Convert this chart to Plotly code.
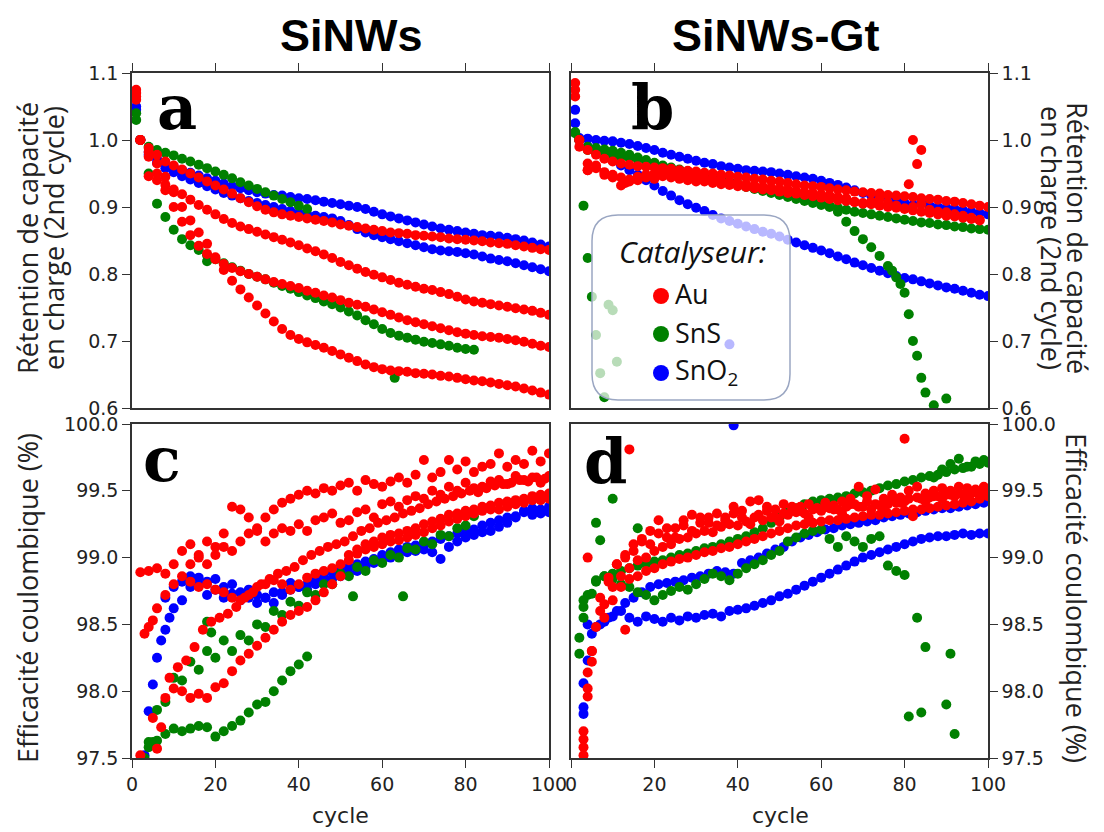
import plotly.graph_objects as go

# The page body has an 8px margin, so the figure is drawn 8px in from the window corner.
OFF = 8
W, H = 1104 - OFF, 832 - OFF
RED, GREEN, BLUE = "#ff0000", "#008000", "#0000ff"

# ===================== DATA =====================
# Panel a (SiNWs) - capacity retention. First value = cycle 1, then cycles 2,4,...,100
A_AU1 = [1.075, 1.0, 0.988, 0.978, 0.968, 0.962, 0.956, 0.95, 0.944, 0.938, 0.932, 0.926, 0.92, 0.913, 0.907, 0.901, 0.896, 0.892, 0.889, 0.887, 0.885, 0.883, 0.881, 0.879, 0.877, 0.874, 0.872, 0.87, 0.868, 0.866, 0.864, 0.862, 0.861, 0.86, 0.858, 0.857, 0.856, 0.855, 0.853, 0.852, 0.851, 0.85, 0.849, 0.847, 0.846, 0.845, 0.843, 0.841, 0.839, 0.837, 0.836]
A_AU2 = [1.07, 1.0, 0.946, 0.94, 0.933, 0.926, 0.919, 0.911, 0.903, 0.896, 0.889, 0.882, 0.876, 0.871, 0.867, 0.863, 0.859, 0.855, 0.851, 0.847, 0.843, 0.838, 0.834, 0.829, 0.824, 0.818, 0.813, 0.808, 0.803, 0.799, 0.795, 0.791, 0.787, 0.784, 0.781, 0.778, 0.776, 0.773, 0.77, 0.766, 0.762, 0.759, 0.757, 0.755, 0.753, 0.751, 0.749, 0.747, 0.745, 0.742, 0.739]
A_AU3 = [1.065, 1.0, 0.975, 0.95, 0.925, 0.9, 0.878, 0.858, 0.842, 0.83, 0.822, 0.815, 0.809, 0.804, 0.8, 0.796, 0.792, 0.788, 0.785, 0.782, 0.779, 0.775, 0.772, 0.768, 0.765, 0.761, 0.757, 0.754, 0.751, 0.747, 0.743, 0.739, 0.735, 0.731, 0.728, 0.725, 0.722, 0.719, 0.716, 0.713, 0.711, 0.709, 0.707, 0.706, 0.705, 0.703, 0.701, 0.699, 0.696, 0.693, 0.691]
A_AU4 = [1.06, 1.0, 0.982, 0.965, 0.945, 0.922, 0.9, 0.88, 0.862, 0.845, 0.825, 0.806, 0.79, 0.777, 0.765, 0.753, 0.741, 0.729, 0.718, 0.709, 0.703, 0.698, 0.694, 0.69, 0.685, 0.68, 0.675, 0.67, 0.665, 0.661, 0.658, 0.656, 0.655, 0.654, 0.652, 0.651, 0.65, 0.648, 0.647, 0.645, 0.643, 0.641, 0.64, 0.638, 0.636, 0.634, 0.632, 0.629, 0.626, 0.623, 0.62]
A_SNS1 = [1.04, 1.0, 0.99, 0.985, 0.981, 0.977, 0.972, 0.968, 0.963, 0.958, 0.953, 0.948, 0.943, 0.937, 0.932, 0.927, 0.922, 0.917, 0.912, 0.907, 0.902, 0.897]
A_SNS2 = [1.03, 1.0, 0.95, 0.905, 0.885, 0.866, 0.852, 0.843, 0.836, 0.828, 0.822, 0.816, 0.81, 0.805, 0.8, 0.796, 0.792, 0.787, 0.782, 0.778, 0.773, 0.768, 0.764, 0.759, 0.755, 0.75, 0.744, 0.738, 0.731, 0.725, 0.718, 0.712, 0.708, 0.705, 0.702, 0.699, 0.697, 0.695, 0.693, 0.69, 0.688, 0.687]
A_SNS_OUT_X = [18, 63]
A_SNS_OUT_Y = [0.819, 0.645]
A_SNO1 = [1.05, 1.0, 0.982, 0.972, 0.965, 0.96, 0.955, 0.951, 0.947, 0.943, 0.939, 0.935, 0.931, 0.928, 0.925, 0.922, 0.92, 0.918, 0.917, 0.915, 0.913, 0.912, 0.91, 0.908, 0.906, 0.904, 0.902, 0.9, 0.897, 0.893, 0.889, 0.886, 0.883, 0.88, 0.877, 0.874, 0.871, 0.868, 0.866, 0.864, 0.862, 0.86, 0.858, 0.857, 0.856, 0.854, 0.852, 0.85, 0.847, 0.844, 0.841]
A_SNO2 = [1.045, 1.0, 0.978, 0.966, 0.958, 0.952, 0.946, 0.941, 0.936, 0.931, 0.926, 0.921, 0.917, 0.913, 0.909, 0.906, 0.903, 0.9, 0.897, 0.894, 0.891, 0.889, 0.887, 0.885, 0.883, 0.879, 0.873, 0.867, 0.862, 0.858, 0.855, 0.852, 0.849, 0.846, 0.843, 0.84, 0.837, 0.835, 0.834, 0.833, 0.831, 0.829, 0.826, 0.823, 0.821, 0.819, 0.816, 0.813, 0.81, 0.807, 0.804]

# Panel b (SiNWs-Gt) - capacity retention. First value = cycle 1, then cycles 2,4,...
B_AU1 = [1.085, 1.0, 0.985, 0.978, 0.972, 0.968, 0.965, 0.963, 0.961, 0.96, 0.959, 0.958, 0.957, 0.955, 0.954, 0.953, 0.951, 0.95, 0.948, 0.947, 0.945, 0.944, 0.942, 0.941, 0.939, 0.938, 0.936, 0.934, 0.932, 0.931, 0.93, 0.928, 0.926, 0.925, 0.923, 0.922, 0.921, 0.92, 0.918, 0.917, 0.916, 0.915, 0.913, 0.912, 0.911, 0.909, 0.908, 0.906, 0.904, 0.902, 0.9]
B_AU2 = [1.075, 1.0, 0.965, 0.958, 0.952, 0.948, 0.944, 0.941, 0.945, 0.948, 0.95, 0.952, 0.951, 0.949, 0.947, 0.945, 0.943, 0.941, 0.939, 0.937, 0.935, 0.934, 0.932, 0.93, 0.929, 0.927, 0.926, 0.924, 0.922, 0.921, 0.919, 0.917, 0.915, 0.913, 0.907, 0.905, 0.908, 0.912, 0.906, 0.902, 0.898, 0.9, 0.904, 0.896, 0.893, 0.892, 0.889, 0.887, 0.884, 0.881]
B_AU3 = [1.065, 0.99, 0.955, 0.962, 0.948, 0.944, 0.932, 0.938, 0.94, 0.944, 0.942, 0.946, 0.944, 0.942, 0.94, 0.938, 0.938, 0.936, 0.934, 0.933, 0.931, 0.93, 0.928, 0.926, 0.925, 0.923, 0.921, 0.92, 0.918, 0.916, 0.914, 0.912, 0.91, 0.909, 0.908, 0.906, 0.904, 0.902, 0.9, 0.899, 0.897, 0.895, 0.893, 0.891, 0.889, 0.887, 0.886, 0.884, 0.882, 0.88]
B_AU_OUT_X = [4, 13, 81, 82, 83, 84]
B_AU_OUT_Y = [0.955, 0.936, 0.934, 1.0, 0.964, 0.985]
B_SNS1 = [1.012, 1.0, 0.985, 0.981, 0.979, 0.977, 0.975, 0.973, 0.971, 0.968, 0.965, 0.962, 0.959, 0.956, 0.953, 0.95, 0.947, 0.944, 0.941, 0.938, 0.935, 0.932, 0.929, 0.926, 0.923, 0.92, 0.917, 0.914, 0.911, 0.908, 0.905, 0.902, 0.899, 0.896, 0.893, 0.891, 0.889, 0.887, 0.885, 0.883, 0.881, 0.879, 0.877, 0.876, 0.874, 0.873, 0.871, 0.87, 0.868, 0.867, 0.866]
B_SNS2 = [1.01, 1.0, 0.99, 0.988, 0.986, 0.984, 0.981, 0.978, 0.974, 0.97, 0.966, 0.961, 0.956, 0.952, 0.95, 0.948, 0.945, 0.942, 0.939, 0.936, 0.933, 0.93, 0.927, 0.924, 0.921, 0.918, 0.915, 0.912, 0.909, 0.906, 0.903, 0.9, 0.893, 0.878, 0.864, 0.852, 0.84, 0.827, 0.812]
B_SNS2_TAIL_X = [77, 78, 79, 80, 81, 82, 83, 84, 85, 87, 90]
B_SNS2_TAIL_Y = [0.805, 0.795, 0.785, 0.772, 0.74, 0.70, 0.678, 0.645, 0.623, 0.604, 0.614]
B_SNS3_X = [3, 4, 5, 6, 7, 8, 9, 10, 11]
B_SNS3_Y = [0.902, 0.824, 0.766, 0.709, 0.652, 0.616, 0.754, 0.746, 0.669]
B_SNO1 = [1.045, 1.003, 1.002, 1.0, 0.999, 0.998, 0.996, 0.994, 0.991, 0.988, 0.985, 0.981, 0.978, 0.975, 0.972, 0.969, 0.966, 0.964, 0.961, 0.959, 0.957, 0.955, 0.954, 0.953, 0.952, 0.95, 0.948, 0.946, 0.944, 0.942, 0.939, 0.936, 0.933, 0.929, 0.925, 0.921, 0.917, 0.913, 0.916, 0.91, 0.906, 0.903, 0.909, 0.902, 0.9, 0.899, 0.897, 0.895, 0.893, 0.891, 0.889]
B_SNO2 = [1.025, 1.0, 0.99, 0.983, 0.976, 0.969, 0.962, 0.955, 0.948, 0.94, 0.932, 0.924, 0.917, 0.91, 0.904, 0.899, 0.894, 0.888, 0.883, 0.879, 0.875, 0.871, 0.867, 0.863, 0.86, 0.856, 0.851, 0.847, 0.843, 0.839, 0.835, 0.831, 0.826, 0.822, 0.817, 0.813, 0.809, 0.805, 0.801, 0.797, 0.794, 0.792, 0.789, 0.786, 0.783, 0.78, 0.778, 0.775, 0.772, 0.769, 0.767]
B_SNO_OUT_X = [38]
B_SNO_OUT_Y = [0.695]

# Panel c (SiNWs) - coulombic efficiency (%). (start cycle, values every 2 cycles)
C_AU1_START, C_AU1 = 2, [98.89, 98.9, 98.92, 98.88, 98.95, 99.05, 99.1, 99.02, 99.12, 99.08, 99.18, 99.38, 99.36, 99.3, 99.22, 99.3, 99.36, 99.41, 99.44, 99.47, 99.5, 99.48, 99.52, 99.5, 99.54, 99.56, 99.5, 99.58, 99.55, 99.53, 99.57, 99.6, 99.56, 99.62, 99.73, 99.6, 99.64, 99.73, 99.66, 99.72, 99.64, 99.68, 99.7, 99.78, 99.68, 99.73, 99.7, 99.8, 99.72, 99.78]
C_AU2_START, C_AU2 = 14, [98.95, 99.0, 98.95, 99.02, 99.08, 99.05, 99.12, 99.18, 99.2, 99.12, 99.18, 99.22, 99.2, 99.25, 99.2, 99.28, 99.3, 99.33, 99.26, 99.28, 99.34, 99.36, 99.3, 99.4, 99.42, 99.38, 99.43, 99.46, 99.44, 99.5, 99.47, 99.53, 99.5, 99.56, 99.52, 99.53, 99.57, 99.58, 99.55, 99.61, 99.58, 99.6, 99.56, 99.61]
C_AU3_START, C_AU3 = 6, [98.62, 98.72, 98.8, 98.86, 98.82, 98.78, 98.8, 98.76, 98.74, 98.7, 98.68, 98.72, 98.78, 98.8, 98.83, 98.8, 98.76, 98.8, 98.85, 98.88, 98.9, 98.92, 98.95, 99.02, 99.06, 99.1, 99.12, 99.15, 99.17, 99.18, 99.2, 99.22, 99.25, 99.27, 99.29, 99.32, 99.33, 99.35, 99.36, 99.38, 99.39, 99.41, 99.42, 99.43, 99.44, 99.46, 99.47, 99.48]
C_AU4_START, C_AU4 = 8, [97.95, 98.02, 98.0, 97.95, 97.98, 97.95, 98.03, 98.06, 98.15, 98.23, 98.28, 98.34, 98.4, 98.46, 98.52, 98.57, 98.6, 98.63, 98.68, 98.74, 98.8, 98.86, 98.98, 99.03, 99.06, 99.08, 99.1, 99.12, 99.13, 99.15, 99.17, 99.19, 99.22, 99.24, 99.27, 99.29, 99.31, 99.33, 99.35, 99.36, 99.36, 99.38, 99.4, 99.41, 99.43, 99.43, 99.44]
C_AU5_START, C_AU5 = 9, [98.1, 98.18, 98.23, 98.33, 98.46, 98.52, 98.55, 98.58, 98.63, 98.7, 98.74, 98.8, 98.84, 98.88, 98.9, 98.93, 98.98, 99.02, 99.05, 99.08, 99.1, 99.12, 99.16, 99.2, 99.22, 99.26, 99.28, 99.3, 99.33, 99.35, 99.37, 99.4, 99.42, 99.44, 99.46, 99.48, 99.5, 99.49, 99.52, 99.54, 99.55, 99.56, 99.58, 99.57, 99.6, 99.59]
C_AU_OUT_X = [3, 4, 5, 2, 5, 6, 7]
C_AU_OUT_Y = [98.43, 98.48, 98.53, 97.52, 97.8, 97.57, 97.73]
C_SNS1_START, C_SNS1 = 6, [97.63, 97.68, 97.72, 97.7, 97.72, 97.74, 97.73, 97.66, 97.7, 97.74, 97.78, 97.84, 97.9, 97.92, 98.0, 98.08, 98.15, 98.2, 98.26]
C_SNS2_START, C_SNS2 = 4, [97.62, 97.86, 97.92, 98.1, 98.08, 98.22, 98.16, 98.3, 98.25, 98.38, 98.3, 98.42, 98.38, 98.5, 98.48, 98.6, 98.57, 98.67, 98.64, 98.74, 98.72, 98.8, 98.8, 98.88, 98.86, 98.93, 98.9, 98.98, 98.96, 99.02, 99.0, 99.07, 99.06, 99.12, 99.1, 99.17, 99.16, 99.22, 99.24, 99.31]
C_SNS_OUT_X = [3, 4, 5, 18, 19, 53, 65]
C_SNS_OUT_Y = [97.5, 97.58, 97.62, 98.52, 98.44, 98.71, 98.71]
C_SNO1_X0, C_SNO1_Y0 = [3, 4, 5, 6, 7, 8, 9], [97.52, 97.85, 98.05, 98.25, 98.38, 98.46, 98.55]
C_SNO1_START, C_SNO1 = 10, [98.62, 98.68, 98.78, 98.85, 98.82, 98.84, 98.78, 98.8, 98.74, 98.76, 98.72, 98.7, 98.66, 98.74, 98.81, 98.78, 98.76, 98.8, 98.82, 98.84, 98.86, 98.88, 98.9, 98.93, 98.96, 98.99, 99.0, 99.03, 99.04, 99.05, 99.06, 99.04, 98.99, 99.08, 99.12, 99.15, 99.17, 99.19, 99.2, 99.23, 99.26, 99.3, 99.34, 99.32, 99.33, 99.34]
C_SNO2_START, C_SNO2 = 8, [98.7, 98.78, 98.82, 98.86, 98.8, 98.72, 98.76, 98.7, 98.73, 98.68, 98.7, 98.66, 98.7, 98.74, 98.72, 98.76, 98.78, 98.8, 98.83, 98.86, 98.89, 98.9, 98.93, 98.95, 98.97, 98.99, 99.02, 99.04, 99.06, 99.08, 99.09, 99.1, 99.12, 99.14, 99.16, 99.18, 99.19, 99.21, 99.24, 99.26, 99.28, 99.3, 99.31, 99.35, 99.37, 99.36, 99.38]

# Panel d (SiNWs-Gt) - coulombic efficiency (%)
D_AU1_START, D_AU1 = 6, [98.48, 98.65, 98.78, 98.86, 98.92, 98.98, 99.0, 99.05, 99.08, 99.1, 99.14, 99.15, 99.18, 99.2, 99.19, 99.23, 99.25, 99.24, 99.27, 99.3, 99.28, 99.3, 99.27, 99.32, 99.34, 99.33, 99.36, 99.35, 99.37, 99.36, 99.38, 99.4, 99.38, 99.36, 99.39, 99.4, 99.41, 99.42, 99.31, 99.44, 99.45, 99.46, 99.47, 99.46, 99.47, 99.48, 99.47, 99.48]
D_AU2_START, D_AU2 = 5, [98.3, 98.6, 98.82, 98.95, 99.0, 99.05, 99.12, 99.2, 99.28, 99.15, 99.22, 99.28, 99.32, 99.3, 99.26, 99.33, 99.3, 99.38, 99.35, 99.42, 99.43, 99.38, 99.36, 99.4, 99.35, 99.38, 99.4, 99.37, 99.41, 99.39, 99.42, 99.44, 99.53, 99.46, 99.51, 99.44, 99.47, 99.45, 99.5, 99.53, 99.48, 99.5, 99.52, 99.5, 99.53, 99.52, 99.51, 99.53]
D_AU3_START, D_AU3 = 8, [98.55, 98.68, 98.78, 98.84, 98.86, 98.9, 98.92, 98.95, 98.97, 98.99, 99.0, 99.02, 99.04, 99.05, 99.07, 99.08, 99.1, 99.12, 99.14, 99.16, 99.18, 99.2, 99.22, 99.24, 99.25, 99.26, 99.27, 99.28, 99.28, 99.29, 99.3, 99.31, 99.32, 99.32, 99.33, 99.34, 99.35, 99.36, 99.36, 99.37, 99.38, 99.39, 99.4, 99.41, 99.42, 99.44, 99.46]
D_AU4_START, D_AU4 = 7, [98.7, 98.85, 98.95, 99.02, 99.1, 99.14, 99.1, 99.18, 99.22, 99.15, 99.24, 99.2, 99.26, 99.3, 99.24, 99.28, 99.33, 99.3, 99.25, 99.32, 99.35, 99.3, 99.33, 99.38, 99.35, 99.3, 99.37, 99.4, 99.36, 99.33, 99.4, 99.38, 99.42, 99.4, 99.36, 99.43, 99.41, 99.44, 99.45, 99.42, 99.46, 99.44, 99.47, 99.48, 99.46, 99.49, 99.47]
D_AU_OUT_X = [3, 3, 3, 3, 4, 4, 4, 5, 5, 4, 13, 14, 80]
D_AU_OUT_Y = [97.52, 97.58, 97.64, 97.7, 97.96, 98.02, 98.14, 98.22, 98.3, 99.0, 98.46, 99.81, 99.89]
D_SNS1_START, D_SNS1 = 4, [98.72, 98.82, 98.86, 98.88, 98.9, 98.92, 98.94, 98.95, 98.97, 98.98, 99.0, 99.02, 99.03, 99.05, 99.07, 99.08, 99.1, 99.12, 99.14, 99.16, 99.19, 99.22, 99.26, 99.3, 99.34, 99.37, 99.4, 99.42, 99.43, 99.44, 99.45, 99.46, 99.48, 99.49, 99.5, 99.52, 99.54, 99.55, 99.57, 99.58, 99.6, 99.61, 99.62, 99.64, 99.66, 99.67, 99.68, 99.7, 99.71]
D_SNS2_START, D_SNS2 = 6, [98.83, 98.86, 98.84, 98.8, 98.78, 98.74, 98.72, 98.68, 98.72, 98.75, 98.78, 98.76, 98.8, 98.84, 98.88, 98.86, 98.83, 98.88, 98.92, 98.95, 98.98, 99.02, 99.05, 99.12, 99.15, 99.18, 99.2, 99.21, 99.14, 99.08, 99.16, 99.12, 99.08, 99.14, 99.16, 98.94, 98.9, 98.87]
D_SNS_OUT_X = [2, 2, 3, 3, 3, 5, 6, 7, 10, 16, 81, 83, 84, 85, 90, 91, 92, 87, 89, 91, 93, 95, 97, 99]
D_SNS_OUT_Y = [98.4, 98.28, 98.68, 98.63, 98.55, 98.73, 99.26, 99.13, 99.44, 99.22, 97.81, 98.55, 97.84, 98.33, 97.9, 98.28, 97.68, 99.6, 99.66, 99.7, 99.74, 99.68, 99.72, 99.73]
D_SNO1_START, D_SNO1 = 5, [98.43, 98.5, 98.55, 98.6, 98.66, 98.7, 98.74, 98.78, 98.8, 98.81, 98.82, 98.83, 98.85, 98.86, 98.88, 98.9, 98.89, 98.88, 98.96, 98.98, 99.0, 99.03, 99.06, 99.08, 99.12, 99.15, 99.17, 99.19, 99.21, 99.22, 99.24, 99.25, 99.26, 99.27, 99.28, 99.3, 99.31, 99.32, 99.33, 99.34, 99.35, 99.36, 99.37, 99.37, 99.38, 99.39, 99.4, 99.41]
D_SNO2_START, D_SNO2 = 4, [98.5, 98.48, 98.52, 98.56, 98.6, 98.55, 98.52, 98.56, 98.54, 98.52, 98.55, 98.53, 98.56, 98.55, 98.57, 98.58, 98.56, 98.6, 98.61, 98.62, 98.64, 98.66, 98.68, 98.71, 98.73, 98.76, 98.79, 98.82, 98.85, 98.88, 98.91, 98.94, 98.97, 99.0, 99.02, 99.04, 99.06, 99.08, 99.1, 99.12, 99.14, 99.15, 99.16, 99.16, 99.17, 99.18, 99.17, 99.18, 99.18]
D_SNO_OUT_X = [3, 3, 3, 4, 39]
D_SNO_OUT_Y = [98.06, 97.88, 97.83, 98.23, 99.99]

X_TICKS = [0, 20, 40, 60, 80, 100]
A_TICKS = [0.6, 0.7, 0.8, 0.9, 1.0, 1.1]
C_TICKS = [97.5, 98.0, 98.5, 99.0, 99.5, 100.0]
LEGEND_NAMES = ["Au", "SnS", "SnO<sub>2</sub>"]
LEGEND_COLORS = [RED, GREEN, BLUE]

# ===================== FIGURE =====================
def cyc1(vals):
    return [1] + [2 + 2 * i for i in range(len(vals) - 1)]

def cyc(start, vals):
    return [start + 2 * i for i in range(len(vals))]

fig = go.Figure()
MS = 10

def add(x, y, color, ax):
    fig.add_trace(go.Scatter(x=x, y=y, mode="markers", showlegend=False, hoverinfo="skip",
                             marker=dict(color=color, size=MS, line=dict(width=0)),
                             xaxis="x" + ax, yaxis="y" + ax))

# panel a
for v in (A_SNO1, A_SNO2):
    add(cyc1(v), v, BLUE, "")
for v in (A_SNS1, A_SNS2):
    add(cyc1(v), v, GREEN, "")
add(A_SNS_OUT_X, A_SNS_OUT_Y, GREEN, "")
for v in (A_AU1, A_AU2, A_AU3, A_AU4):
    add(cyc1(v), v, RED, "")

# panel b
for v in (B_SNO1, B_SNO2):
    add(cyc1(v), v, BLUE, "2")
add(B_SNO_OUT_X, B_SNO_OUT_Y, BLUE, "2")
for v in (B_SNS1, B_SNS2):
    add(cyc1(v), v, GREEN, "2")
add(B_SNS2_TAIL_X, B_SNS2_TAIL_Y, GREEN, "2")
add(B_SNS3_X, B_SNS3_Y, GREEN, "2")
for v in (B_AU1, B_AU2, B_AU3):
    add(cyc1(v), v, RED, "2")
add(B_AU_OUT_X, B_AU_OUT_Y, RED, "2")

# panel c
add(C_SNO1_X0, C_SNO1_Y0, BLUE, "3")
add(cyc(C_SNO1_START, C_SNO1), C_SNO1, BLUE, "3")
add(cyc(C_SNO2_START, C_SNO2), C_SNO2, BLUE, "3")
add(cyc(C_SNS1_START, C_SNS1), C_SNS1, GREEN, "3")
add(cyc(C_SNS2_START, C_SNS2), C_SNS2, GREEN, "3")
add(C_SNS_OUT_X, C_SNS_OUT_Y, GREEN, "3")
for s, v in ((C_AU1_START, C_AU1), (C_AU2_START, C_AU2), (C_AU3_START, C_AU3),
             (C_AU4_START, C_AU4), (C_AU5_START, C_AU5)):
    add(cyc(s, v), v, RED, "3")
add(C_AU_OUT_X, C_AU_OUT_Y, RED, "3")

# panel d
add(cyc(D_SNO1_START, D_SNO1), D_SNO1, BLUE, "4")
add(cyc(D_SNO2_START, D_SNO2), D_SNO2, BLUE, "4")
add(D_SNO_OUT_X, D_SNO_OUT_Y, BLUE, "4")
add(cyc(D_SNS1_START, D_SNS1), D_SNS1, GREEN, "4")
add(cyc(D_SNS2_START, D_SNS2), D_SNS2, GREEN, "4")
add(D_SNS_OUT_X, D_SNS_OUT_Y, GREEN, "4")
for s, v in ((D_AU1_START, D_AU1), (D_AU2_START, D_AU2), (D_AU3_START, D_AU3),
             (D_AU4_START, D_AU4)):
    add(cyc(s, v), v, RED, "4")
add(D_AU_OUT_X, D_AU_OUT_Y, RED, "4")

# window-pixel -> paper coordinates
def X(p): return (p - OFF) / W
def Y(p): return 1 - (p - OFF) / H

AX = "#333333"
TICKFONT = dict(family="DejaVu Sans", size=19, color="#222222")
xcommon = dict(range=[0, 100], tickvals=X_TICKS, ticks="outside", ticklen=8, tickwidth=1.3,
               tickcolor=AX, showline=True, linecolor=AX, linewidth=1.5, mirror=True,
               showgrid=False, zeroline=False, tickfont=TICKFONT, automargin=False)
ycommon = dict(ticks="outside", ticklen=8, tickwidth=1.3, tickcolor=AX, showline=True,
               linecolor=AX, linewidth=1.5, mirror=True, showgrid=False, zeroline=False,
               tickfont=TICKFONT, tickformat=".1f", automargin=False)

dx_l = [X(132), X(549)]
dx_r = [X(571), X(988)]
dy_t = [Y(408), Y(73)]
dy_b = [Y(758), Y(424)]

fig.update_layout(
    width=W, height=H, margin=dict(l=0, r=0, t=0, b=0, autoexpand=False),
    paper_bgcolor="white", plot_bgcolor="white", hovermode=False, showlegend=False,
    xaxis=dict(xcommon, domain=dx_l, anchor="y", side="top", showticklabels=False),
    yaxis=dict(ycommon, domain=dy_t, anchor="x", side="left", range=[0.6, 1.1], tickvals=A_TICKS),
    xaxis2=dict(xcommon, domain=dx_r, anchor="y2", side="top", showticklabels=False),
    yaxis2=dict(ycommon, domain=dy_t, anchor="x2", side="right", range=[0.6, 1.1], tickvals=A_TICKS),
    xaxis3=dict(xcommon, domain=dx_l, anchor="y3", side="bottom"),
    yaxis3=dict(ycommon, domain=dy_b, anchor="x3", side="left", range=[97.5, 100], tickvals=C_TICKS),
    xaxis4=dict(xcommon, domain=dx_r, anchor="y4", side="bottom"),
    yaxis4=dict(ycommon, domain=dy_b, anchor="x4", side="right", range=[97.5, 100], tickvals=C_TICKS),
)

# rounded legend box (semi-transparent, fades the points behind it)
x0, x1, y0, y1, r = 592, 790, 215, 400, 26
pts = (f"M {X(x0+r)},{Y(y0)} L {X(x1-r)},{Y(y0)} Q {X(x1)},{Y(y0)} {X(x1)},{Y(y0+r)} "
       f"L {X(x1)},{Y(y1-r)} Q {X(x1)},{Y(y1)} {X(x1-r)},{Y(y1)} L {X(x0+r)},{Y(y1)} "
       f"Q {X(x0)},{Y(y1)} {X(x0)},{Y(y1-r)} L {X(x0)},{Y(y0+r)} Q {X(x0)},{Y(y0)} {X(x0+r)},{Y(y0)} Z")
fig.add_shape(type="path", path=pts, xref="paper", yref="paper", layer="above",
              fillcolor="rgba(255,255,255,0.72)", line=dict(color="#9aa6c2", width=1.5))

ann = []
def A(text, x, y, size, family, angle=0, color="#000000", style="normal", xanchor="center"):
    ann.append(dict(text=text, x=X(x), y=Y(y), xref="paper", yref="paper", showarrow=False,
                    xanchor=xanchor, yanchor="middle", textangle=angle,
                    font=dict(size=size, family=family, color=color, style=style)))

# legend entries: marker dot + label
LEG_Y = [296, 334, 373]
for name, col, ly in zip(LEGEND_NAMES, LEGEND_COLORS, LEG_Y):
    fig.add_shape(type="circle", xref="paper", yref="paper", layer="above",
                  xsizemode="pixel", ysizemode="pixel", xanchor=X(661), yanchor=Y(ly),
                  x0=-8, x1=8, y0=-8, y1=8, fillcolor=col, line=dict(width=0))
    A(name, 673, ly - 2, 27, "Open Sans", color="#111111", xanchor="left")

A("<b>SiNWs</b>", 351, 36, 45, "Liberation Sans")
A("<b>SiNWs-Gt</b>", 776, 36, 45, "Liberation Sans")
A("<b>a</b>", 177, 108, 62, "DejaVu Serif")
A("<b>b</b>", 652, 108, 62, "DejaVu Serif")
A("<b>c</b>", 162, 459, 62, "DejaVu Serif")
A("<b>d</b>", 605, 461, 62, "DejaVu Serif")
A("Catalyseur:", 692, 252, 30, "Open Sans", style="italic", color="#111111")
A("cycle", 340, 815, 22, "DejaVu Sans", color="#222222")
A("cycle", 780, 815, 22, "DejaVu Sans", color="#222222")
TS = 27
A("Rétention de capacité", 27, 238, TS, "Open Sans", angle=-90, color="#222222")
A("en charge (2nd cycle)", 53, 238, TS, "Open Sans", angle=-90, color="#222222")
A("Efficacité coulombique (%)", 27, 598, TS, "Open Sans", angle=-90, color="#222222")
A("Rétention de capacité", 1078, 238, TS, "Open Sans", angle=90, color="#222222")
A("en charge (2nd cycle)", 1052, 238, TS, "Open Sans", angle=90, color="#222222")
A("Efficacité coulombique (%)", 1077, 598, TS, "Open Sans", angle=90, color="#222222")
fig.update_layout(annotations=ann)

fig.write_html("out.html")
